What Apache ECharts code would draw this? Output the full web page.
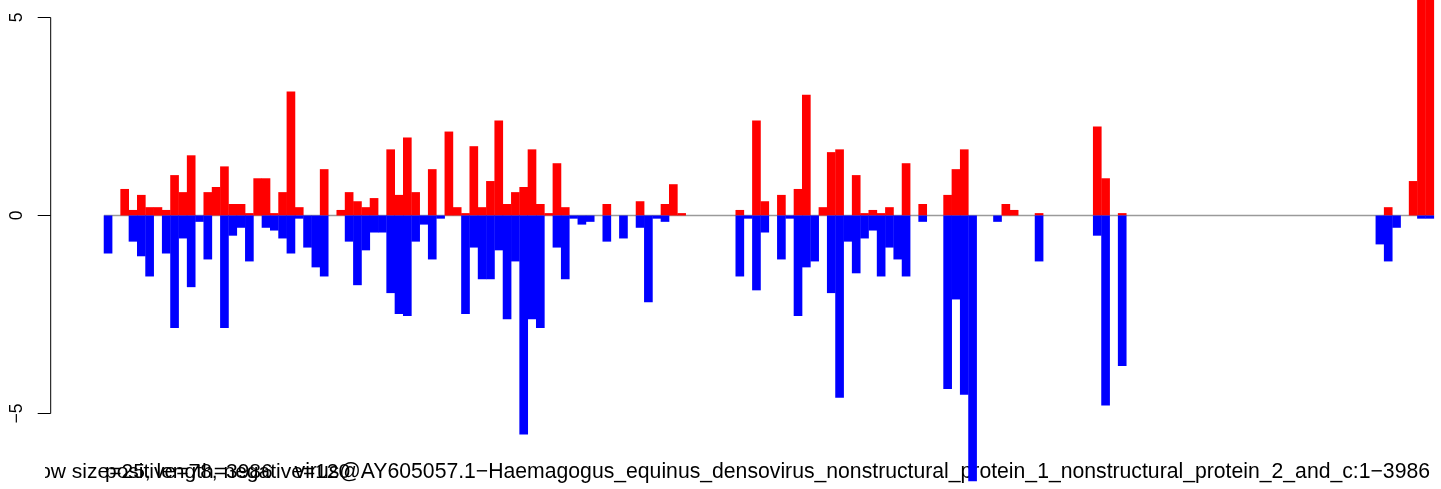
<!DOCTYPE html>
<html>
<head>
<meta charset="utf-8">
<script src="https://cdn.jsdelivr.net/npm/echarts@6/dist/echarts.min.js"></script>
<style>
html,body{margin:0;padding:0;background:#ffffff;}
#chart{width:1441px;height:489px;}
</style>
</head>
<body>
<div id="chart"></div>
<script>
// window index (0..159), window size 25 over length 3986
const windowIndex = Array.from({length: 160}, (_, i) => i);

const positiveValues = [
  0, 0, 0.67, 0.14, 0.52, 0.21, 0.21, 0.14, 1.02, 0.59,
  1.52, 0, 0.59, 0.72, 1.24, 0.29, 0.29, 0.06, 0.94, 0.94,
  0.06, 0.59, 3.13, 0.21, 0, 0, 1.17, 0, 0.14, 0.59,
  0.36, 0.21, 0.44, 0, 1.67, 0.52, 1.97, 0.59, 0, 1.17,
  0, 2.12, 0.21, 0.06, 1.75, 0.21, 0.87, 2.40, 0.29, 0.59,
  0.72, 1.67, 0.29, 0.06, 1.32, 0.21, 0, 0, 0, 0,
  0.29, 0, 0, 0, 0.36, 0, 0, 0.29, 0.79, 0.06,
  0, 0, 0, 0, 0, 0, 0.14, 0, 2.40, 0.36,
  0, 0.52, 0, 0.67, 3.05, 0, 0.21, 1.60, 1.67, 0,
  1.02, 0.06, 0.14, 0.06, 0.21, 0, 1.32, 0, 0.29, 0,
  0, 0.52, 1.17, 1.67, 0, 0, 0, 0, 0.29, 0.14,
  0, 0, 0.06, 0, 0, 0, 0, 0, 0, 2.25,
  0.94, 0, 0.06, 0, 0, 0, 0, 0, 0, 0,
  0, 0, 0, 0, 0, 0, 0, 0, 0, 0,
  0, 0, 0, 0, 0, 0, 0, 0, 0, 0,
  0, 0, 0, 0, 0.21, 0, 0, 0.87, 6.2, 6.2
];

const negativeValues = [
  -0.96, 0, 0, -0.66, -1.03, -1.54, 0, -0.96, -2.84, -0.58,
  -1.81, -0.16, -1.11, 0, -2.84, -0.51, -0.31, -1.16, 0, -0.31,
  -0.38, -0.58, -0.96, -0.08, -0.81, -1.31, -1.54, 0, 0, -0.66,
  -1.76, -0.88, -0.43, -0.43, -1.96, -2.49, -2.54, -0.66, -0.23, -1.11,
  -0.08, 0, 0, -2.49, -0.81, -1.61, -1.61, -0.88, -2.62, -1.16,
  -5.53, -2.62, -2.84, 0, -0.81, -1.61, -0.08, -0.23, -0.16, 0,
  -0.66, 0, -0.58, 0, -0.31, -2.19, -0.08, -0.16, 0, 0,
  0, 0, 0, 0, 0, 0, -1.54, -0.08, -1.89, -0.43,
  0, -1.11, -0.08, -2.54, -1.31, -1.16, 0, -1.96, -4.60, -0.66,
  -1.46, -0.58, -0.38, -1.54, -0.81, -1.11, -1.54, 0, -0.16, 0,
  0, -4.38, -2.12, -4.53, -6.71, 0, 0, -0.16, 0, 0,
  0, 0, -1.16, 0, 0, 0, 0, 0, 0, -0.51,
  -4.80, 0, -3.80, 0, 0, 0, 0, 0, 0, 0,
  0, 0, 0, 0, 0, 0, 0, 0, 0, 0,
  0, 0, 0, 0, 0, 0, 0, 0, 0, 0,
  0, 0, 0, -0.73, -1.16, -0.31, 0, 0, -0.08, -0.08
];

const yTickValues = [-5, 0, 5];

const captionWindow = "window size=25, length=3986";
const captionCounts = "positive=78, negative=120";
const captionName = "virus@AY605057.1\u2212Haemagogus_equinus_densovirus_nonstructural_protein_1_nonstructural_protein_2_and_c:1\u22123986";

// layout constants
const W = 1441, H = 489;
const gridLeft = 50.7;
const xMin = -6.4, xMax = 160.85;
const yMin = -6.907, yMax = 5.442;
const unitPx = (W - gridLeft) / (xMax - xMin);
const barW = unitPx + 0.35;
const FONT = '"Liberation Sans", Arial, Helvetica, sans-serif';

const chart = echarts.init(document.getElementById('chart'), null, {renderer: 'canvas', width: W, height: H});

const option = {
  animation: false,
  backgroundColor: '#ffffff',
  textStyle: {fontFamily: FONT},
  grid: {left: gridLeft, right: 0, top: 0, bottom: 0, containLabel: false},
  xAxis: {
    type: 'value', min: xMin, max: xMax, show: false
  },
  yAxis: {
    type: 'value', min: yMin, max: yMax,
    axisLine: {show: false, onZero: false},
    splitLine: {show: false},
    axisTick: {show: true, customValues: yTickValues, length: 13, lineStyle: {color: '#000', width: 1}},
    axisLabel: {
      show: true, customValues: yTickValues, rotate: 90, margin: 25,
      fontSize: 17.5, color: '#000', fontFamily: FONT,
      formatter: v => (v < 0 ? '\u2212' + Math.abs(v) : String(v))
    }
  },
  series: [
    {
      name: 'zero', type: 'line', silent: true, symbol: 'none', z: 1,
      data: [[windowIndex[0], 0], [windowIndex[windowIndex.length - 1] + 1, 0]],
      lineStyle: {color: '#9a9a9a', width: 1.5}
    },
    {
      name: 'positive', type: 'bar', barWidth: barW, barGap: '-100%', z: 3,
      data: windowIndex.map(i => [i + 0.5, positiveValues[i]]),
      itemStyle: {color: '#ff0000'}
    },
    {
      name: 'negative', type: 'bar', barWidth: barW, barGap: '-100%', z: 3,
      data: windowIndex.map(i => [i + 0.5, negativeValues[i]]),
      itemStyle: {color: '#0000ff'}
    },
    {
      name: 'yaxisline', type: 'line', silent: true, symbol: 'none', clip: false, z: 4,
      data: [[xMin, yTickValues[0]], [xMin, yTickValues[yTickValues.length - 1]]],
      lineStyle: {color: '#000', width: 1}
    }
  ],
  graphic: [
    {type: 'text', x: -4, y: 472, z: 0, silent: true,
     style: {text: captionWindow, fill: '#000', fontSize: 21, fontFamily: FONT, textAlign: 'left', textVerticalAlign: 'middle'}},
    {type: 'text', x: 105, y: 472, z: 0, silent: true,
     style: {text: captionCounts, fill: '#000', fontSize: 21, fontFamily: FONT, textAlign: 'left', textVerticalAlign: 'middle'}},
    {type: 'text', x: 1430, y: 472, z: 0, silent: true,
     style: {text: captionName, fill: '#000', fontSize: 21.2, fontFamily: FONT, textAlign: 'right', textVerticalAlign: 'middle'}},
    {type: 'rect', z: 1, silent: true, shape: {x: 0, y: 450, width: 45, height: 39}, style: {fill: '#ffffff'}}
  ]
};
chart.setOption(option);
</script>
</body>
</html>
